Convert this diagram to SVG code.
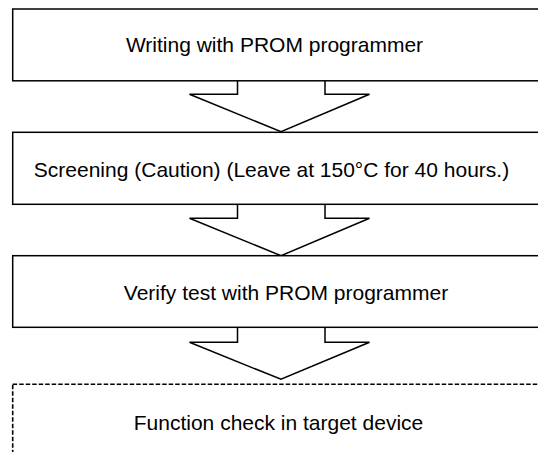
<svg xmlns="http://www.w3.org/2000/svg" width="538" height="452" viewBox="0 0 538 452">
<style>
.box{fill:#fff;stroke:#000;stroke-width:1.5}
.dash{fill:#fff;stroke:#000;stroke-width:1.6;stroke-dasharray:4.5 2}
.arr{fill:#fff;stroke:#000;stroke-width:1.5;stroke-linejoin:miter}
.t{font-family:"Liberation Sans",Arial,sans-serif;font-size:21px;fill:#000;text-anchor:middle}
</style>
<rect width="538" height="452" fill="#fff"/>
<g id="connectors">
<path class="arr" d="M237.5 80V94.3H189.5L281 131.7L369.5 94.3H325V80"/>
<path class="arr" d="M237.5 203.5V218.3H189.5L281 255.7L369.5 218.3H325V203.5"/>
<path class="arr" d="M237.5 326.5V342.3H189.5L281 379.3L369.5 342.3H325V326.5"/>
</g>
<g id="n1"><rect class="box" x="12.7" y="9" width="540" height="71.8"/><text class="t" x="274.5" y="52.3">Writing with PROM programmer</text></g>
<g id="n2"><rect class="box" x="12.7" y="132.3" width="540" height="72"/><text class="t" x="271.5" y="176.7">Screening (Caution) (Leave at 150°C for 40 hours.)</text></g>
<g id="n3"><rect class="box" x="12.7" y="255.7" width="540" height="71.6"/><text class="t" x="286" y="300">Verify test with PROM programmer</text></g>
<g id="n4"><rect class="dash" x="12.7" y="384.3" width="540" height="80"/><text class="t" x="278.5" y="429.5">Function check in target device</text></g>
</svg>
